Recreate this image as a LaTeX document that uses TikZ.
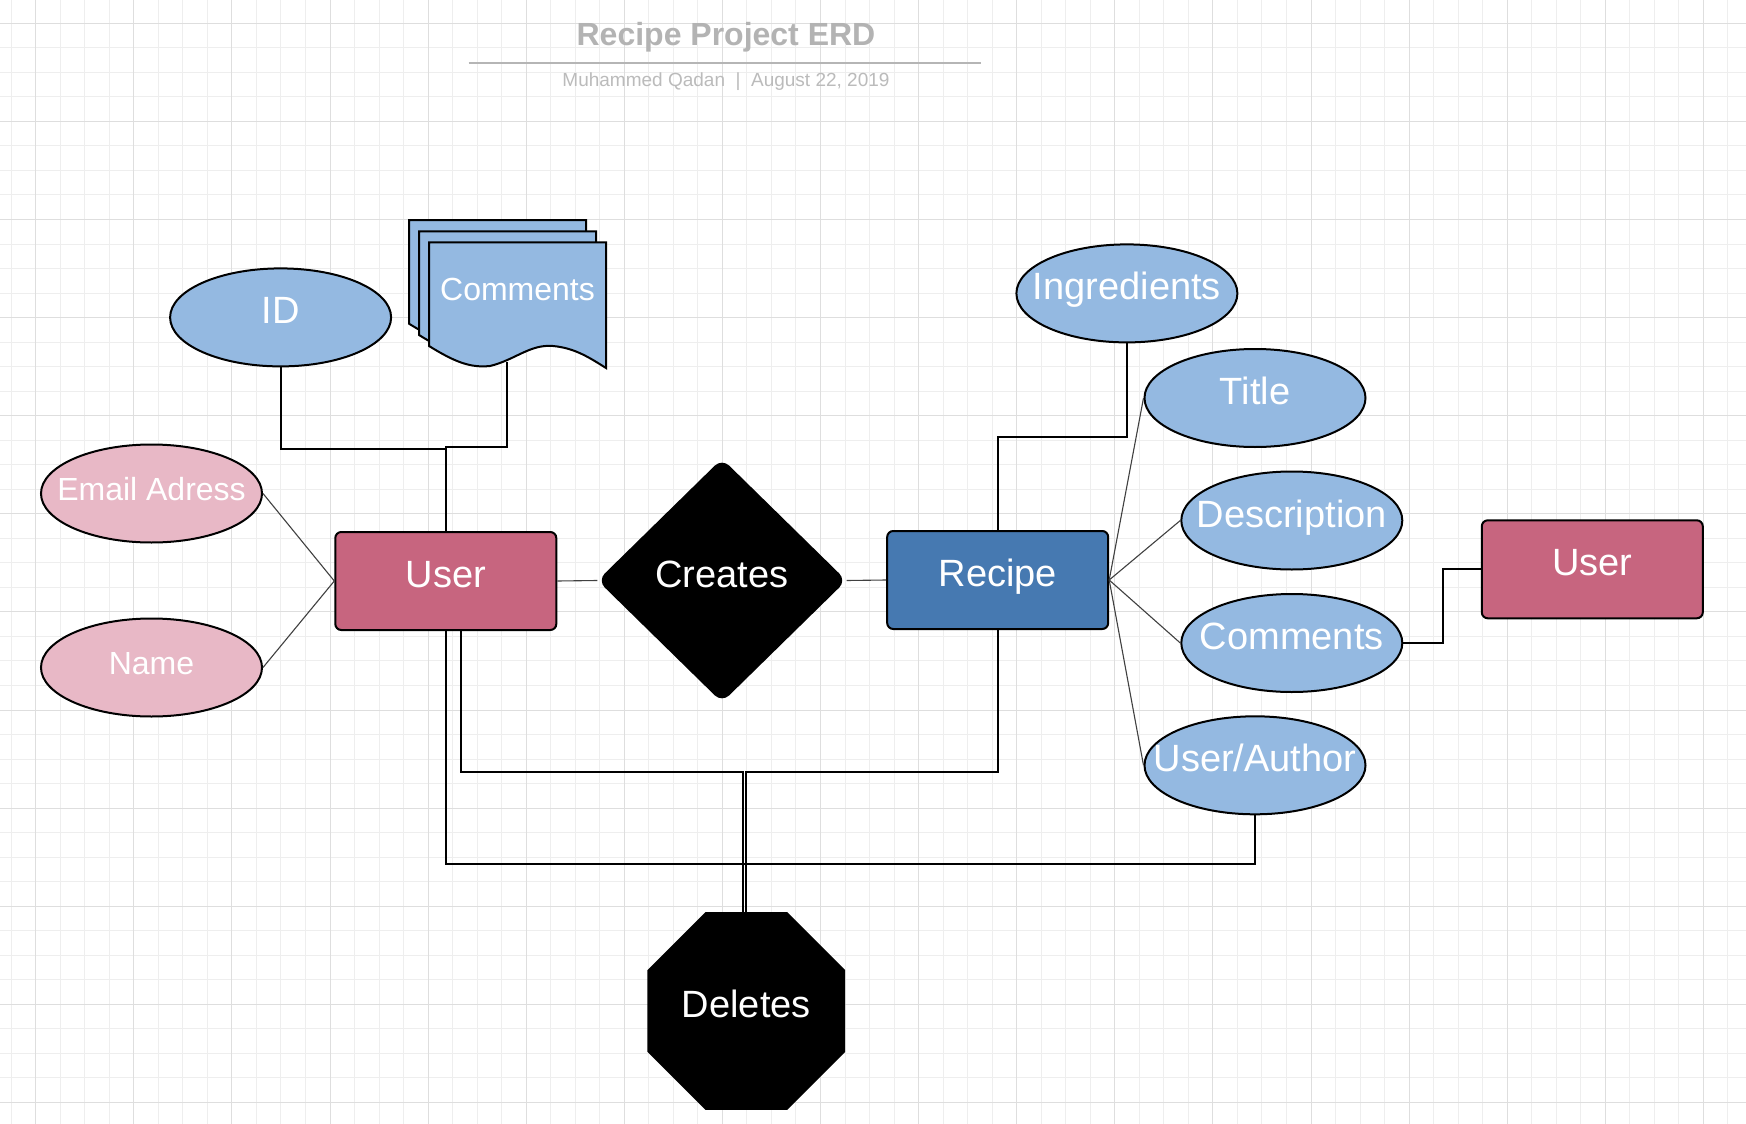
\documentclass[tikz,border=0pt]{standalone}
\usepackage{fontspec}
\setmainfont{Liberation Sans}
\usetikzlibrary{shapes.geometric}
\definecolor{attr}{HTML}{94B9E1}
\definecolor{pinkattr}{HTML}{E8B8C6}
\definecolor{rose}{HTML}{C7657F}
\definecolor{steel}{HTML}{4679B1}
\definecolor{gridminor}{HTML}{EEEEEE}
\definecolor{gridmajor}{HTML}{DEDEDE}
\definecolor{titlegray}{HTML}{B3B3B3}
\definecolor{subgray}{HTML}{BBBBBB}
\definecolor{rulegray}{HTML}{B5B5B5}
\newcommand\zw[1]{\makebox[0pt]{#1}}
\begin{document}
\begin{tikzpicture}[x=1pt,y=-1pt,
  base/.style={inner sep=0pt, text height=13pt, text depth=0pt, text=white, font=\fontsize{38}{40}\selectfont},
  attrb/.style={base, ellipse, draw=black, line width=2pt, fill=attr, minimum width=221pt, minimum height=98pt},
  attrp/.style={attrb, fill=pinkattr, font=\fontsize{32}{36}\selectfont},
  entity/.style={base, rectangle, rounded corners=6pt, draw=black, line width=2pt, fill=rose, minimum width=221pt, minimum height=98pt},
  rel/.style={base, diamond, fill=black, rounded corners=10pt, minimum width=249pt, minimum height=244pt},
  oct/.style={base, regular polygon, regular polygon sides=8, fill=black, minimum size=214pt},
  page/.style={fill=attr, draw=black, line width=2pt, line join=miter},
  conn/.style={line width=2pt, black},
  thinconn/.style={line width=1.1pt, black!75},
]
\useasboundingbox (0,0) rectangle (1746,1124);
\fill[white] (0,0) rectangle (1746,1124);
% grid
\foreach \i in {-1,...,69} \draw[gridminor, line width=1pt] ({35.7+\i*24.525},0) -- ({35.7+\i*24.525},1124);
\foreach \j in {0,...,44} \draw[gridminor, line width=1pt] (0,{23.3+\j*24.525}) -- (1746,{23.3+\j*24.525});
\foreach \i in {0,...,17} \draw[gridmajor, line width=1pt] ({35.7+\i*98.1},0) -- ({35.7+\i*98.1},1124);
\foreach \j in {0,...,11} \draw[gridmajor, line width=1pt] (0,{23.3+\j*98.1}) -- (1746,{23.3+\j*98.1});

% heading
\node[font=\bfseries\fontsize{32}{34}\selectfont, text=titlegray, anchor=base, inner sep=0pt] (heading) at (726,46) {Recipe Project ERD};
\coordinate (rl) at (468.6,62.7);
\coordinate (rr) at (981,62.7);
\draw[rulegray, line width=2pt] (rl) -- (rr);
\node[font=\fontsize{19}{22}\selectfont, text=subgray, anchor=base, inner sep=0pt] (sub) at (726,86) {Muhammed Qadan\ \ |\ \ August 22, 2019};

% document stack
\foreach \dx/\dy in {-20/-22.3, -10/-11, 0/0}
  \draw[page, shift={(\dx,\dy)}] (429,242.3) -- (606,242.3) -- (606,368)
    .. controls (590,358) and (575,348) .. (553,346)
    .. controls (530,344) and (515,360) .. (490,366)
    .. controls (470,368) and (455,362) .. (429,346) -- cycle;
\node[base, font=\fontsize{32}{36}\selectfont] (doc) at (517.5,293.5) {\zw{Comments}};
\coordinate (docb) at (506.7,362);

% nodes
\node[attrb] (id) at (280.6,317.4) {\zw{ID}};
\node[attrp] (email) at (151.5,493.5) {\zw{Email Adress}};
\node[attrp] (name) at (151.5,667.5) {\zw{Name}};
\node[entity] (user) at (445.8,581) {\zw{User}};
\node[rel] (creates) at (722,580.5) {\zw{Creates}};
\node[entity, fill=steel] (recipe) at (997.7,580) {\zw{Recipe}};
\node[attrb] (ing) at (1126.9,293.4) {\zw{Ingredients}};
\node[attrb] (ttl) at (1255,398) {\zw{Title}};
\node[attrb] (desc) at (1291.8,520.5) {\zw{Description}};
\node[attrb] (comm) at (1291.8,643) {\zw{Comments}};
\node[attrb] (ua) at (1255,765.3) {\zw{User/Author}};
\node[entity] (user2) at (1592.3,569.3) {\zw{User}};
\node[oct] (del) at (746.3,1011) {\zw{Deletes}};

\coordinate (dl) at ([xshift=-3.5pt]del.north);
\coordinate (dr) at ([xshift=-0.5pt]del.north);
\coordinate (ui) at ([xshift=15.4pt]user.south);

% connectors
\draw[conn] (id.south) |- (user.north |- 0,449) -- (user.north);
\draw[conn] (docb) |- (user.north |- 0,446.5) -- (user.north);
\draw[thinconn] (email.east) -- (user.west);
\draw[thinconn] (name.east) -- (user.west);
\draw[thinconn] (user.east) -- (creates.west);
\draw[thinconn] (creates.east) -- (recipe.west);
\draw[conn] (recipe.north) |- (ing.south |- 0,436.5) -- (ing.south);
\draw[thinconn] (recipe.east) -- (ttl.west);
\draw[thinconn] (recipe.east) -- (desc.west);
\draw[thinconn] (recipe.east) -- (comm.west);
\draw[thinconn] (recipe.east) -- (ua.west);
\draw[conn] (comm.east) -- ++(39.5,0) |- (user2.west);
\draw[conn] (ua.south) |- (user.south |- 0,864) -- (user.south);
\draw[conn] (ui) |- (dl |- 0,771.7) -- (dl);
\draw[conn] (recipe.south) |- (dr |- 0,771.7) -- (dr);
\end{tikzpicture}
\end{document}
